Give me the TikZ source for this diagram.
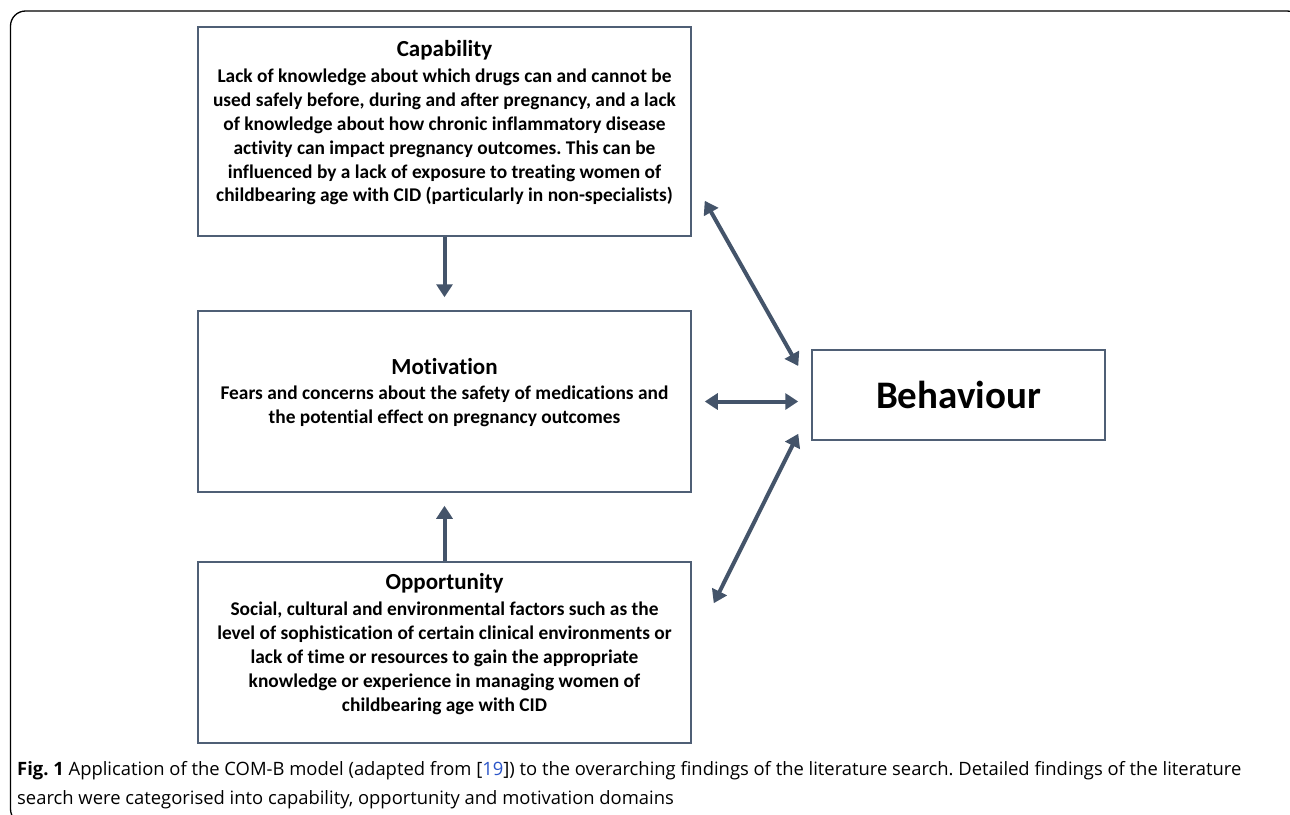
\documentclass[tikz,border=0pt]{standalone}
\usepackage{fontspec}
\setmainfont{Carlito}[Ligatures=NoCommon]
\newfontfamily\capfont{Open Sans}
\usetikzlibrary{arrows.meta,calc}
\definecolor{slate}{HTML}{44546A}
\definecolor{boxline}{HTML}{4F5F75}
\definecolor{linkblue}{HTML}{2B55C8}
\tikzset{
  box/.style={draw=boxline, line width=1.5pt, rectangle, inner sep=0pt},
  boxtext/.style={align=center, font=\bfseries\fontsize{19.4}{23.8}\selectfont, inner sep=0pt},
  boxtitle/.style={font=\bfseries\fontsize{23}{24}\selectfont, inner sep=0pt},
  conn/.style={draw=slate, line width=4pt, -{Triangle[length=13pt,width=16pt]}},
  biconn/.style={draw=slate, line width=4pt, {Triangle[length=13pt,width=16pt]}-{Triangle[length=13pt,width=16pt]}},
  captext/.style={anchor=west, inner sep=0pt, font=\capfont\fontsize{18.4}{22}\selectfont},
}
\frenchspacing
\begin{document}
\begin{tikzpicture}[x=1pt,y=-1pt]
\useasboundingbox (0,0) rectangle (1290,814);
\draw[black, line width=1.3pt, rounded corners=15pt] (10.5,11) rectangle (1302,824);

\node[box, minimum width=493pt, minimum height=209pt] (cap) at (444.5,131.5) {};
\node[box, minimum width=493pt, minimum height=181pt] (mot) at (444.5,401.5) {};
\node[box, minimum width=493pt, minimum height=181pt] (opp) at (444.5,652.5) {};
\node[box, minimum width=293pt, minimum height=90pt] (beh) at (958.5,395) {};

\node[boxtitle] (capt) at (444.5,50) {Capability};
\node[boxtext, anchor=north] (capb) at (444.5,69) {Lack of knowledge about which drugs can and cannot be\\used safely before, during and after pregnancy, and a lack\\of knowledge about how chronic inflammatory disease\\activity can impact pregnancy outcomes. This can be\\influenced by a lack of exposure to treating women of\\childbearing age with CID (particularly in non-specialists)};

\node[boxtitle] (mott) at (444.5,367) {Motivation};
\node[boxtext, anchor=north] (motb) at (444.5,386) {Fears and concerns about the safety of medications and\\the potential effect on pregnancy outcomes};

\node[boxtitle] (oppt) at (444.5,583) {Opportunity};
\node[boxtext, anchor=north] (oppb) at (444.5,602) {Social, cultural and environmental factors such as the\\level of sophistication of certain clinical environments or\\lack of time or resources to gain the appropriate\\knowledge or experience in managing women of\\childbearing age with CID};

\node[font=\bfseries\fontsize{39}{42}\selectfont, inner sep=0pt] (beht) at (beh.center) {Behaviour};

\draw[conn] (cap.south) -- ($(mot.north)+(0,-13)$);
\draw[conn] (opp.north) -- ($(mot.south)+(0,13)$);
\draw[biconn] ($(cap.south east)+(13,-36)$) -- ($(beh.west)+(-13,-29)$);
\draw[biconn] ($(mot.east)+(13,0)$) -- ($(beh.west |- mot.east)+(-13,0)$);
\draw[biconn] ($(opp.north east)+(22,42)$) -- ($(beh.south west)+(-13,-7)$);

\node[captext] (cap1) at (17,771) {\textbf{Fig. 1} Application of the COM-B model (adapted from [{\color{linkblue}19}]) to the overarching findings of the literature search. Detailed findings of the literature};
\node[captext] (cap2) at (17,800) {search were categorised into capability, opportunity and motivation domains};
\end{tikzpicture}
\end{document}
